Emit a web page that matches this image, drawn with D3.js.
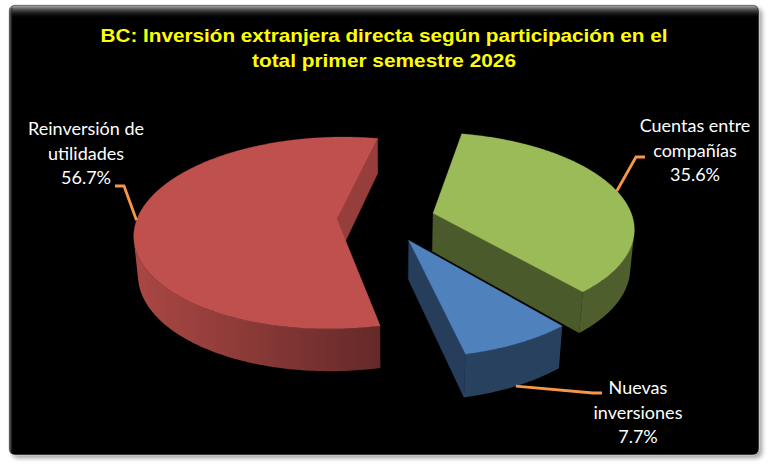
<!DOCTYPE html>
<html lang="es">
<head>
<meta charset="utf-8">
<title>BC: Inversión extranjera directa</title>
<script src="https://cdn.jsdelivr.net/npm/d3@7"></script>
<style>
body { margin: 0; background: #fff; }
svg { display: block; }
.title { font: bold 18.5px "Liberation Sans", Arial, sans-serif; fill: #ffff00; text-anchor: middle; }
.lbl { font: 18px Lato, "Open Sans", sans-serif; fill: #fff; text-anchor: middle; }
.leader { fill: none; stroke: #f79646; stroke-width: 2.8; }
</style>
</head>
<body>
<div id="chart"></div>
<script>
var categories = ["Cuentas entre compañías", "Nuevas inversiones", "Reinversión de utilidades"];
var shares = [35.6, 7.7, 56.7];
var labelLines = [["Cuentas entre", "compañías"], ["Nuevas", "inversiones"], ["Reinversión de", "utilidades"]];
var colors = ["#9bbb59", "#4f81bd", "#c0504d"];
var titleLines = ["BC: Inversión extranjera directa según participación en el", "total primer semestre 2026"];

var W = 770, H = 470;
var svg = d3.select("#chart").append("svg").attr("width", W).attr("height", H);
var defs = svg.append("defs");

// frame
var sh = defs.append("filter").attr("id", "shadow").attr("x", "-5%").attr("y", "-5%").attr("width", "110%").attr("height", "112%");
sh.append("feDropShadow").attr("dx", 3).attr("dy", 3).attr("stdDeviation", 2)
  .attr("flood-color", "#000").attr("flood-opacity", 0.35);
var bevel = defs.append("linearGradient").attr("id", "bevel").attr("x1", 0).attr("y1", 0).attr("x2", 0).attr("y2", 1);
bevel.append("stop").attr("offset", 0).attr("stop-color", "#b0b0b0");
bevel.append("stop").attr("offset", 1).attr("stop-color", "#000").attr("stop-opacity", 0);
var bevelL = defs.append("linearGradient").attr("id", "bevelL").attr("x1", 0).attr("y1", 0).attr("x2", 1).attr("y2", 0);
bevelL.append("stop").attr("offset", 0).attr("stop-color", "#777");
bevelL.append("stop").attr("offset", 1).attr("stop-color", "#000").attr("stop-opacity", 0);

svg.append("rect").attr("x", 9).attr("y", 5).attr("width", 750).attr("height", 450).attr("rx", 6)
  .attr("fill", "#030303").attr("stroke", "#bbb").attr("stroke-width", 0.6).attr("filter", "url(#shadow)");
svg.append("rect").attr("x", 9.5).attr("y", 5.5).attr("width", 749).attr("height", 13).attr("rx", 6).attr("fill", "url(#bevel)");
svg.append("rect").attr("x", 9.5).attr("y", 8).attr("width", 4).attr("height", 444).attr("fill", "url(#bevelL)");

// title
var titleWidth = [567, 264];
svg.selectAll(".title").data(titleLines).enter().append("text")
  .attr("class", "title").attr("x", 384).attr("y", function(d, i) { return 42 + i * 24.5; })
  .attr("textLength", function(d, i) { return titleWidth[i]; })
  .attr("lengthAdjust", "spacingAndGlyphs")
  .text(function(d) { return d; });

// 3d view
var cx = 386, cy = 219;
var R = 200, depth = 44, explode = 49;
var tilt = 28 * Math.PI / 180, eye = 1240;
var startDeg = 11.4;
var cam = [0, eye * Math.sin(tilt), eye * Math.cos(tilt)];

function view(x, y, z) {
  var v = -y * Math.cos(tilt) + z * Math.sin(tilt);
  var w = y * Math.sin(tilt) + z * Math.cos(tilt);
  var s = eye / (eye - w);
  return [cx + x * s, cy + v * s, w];
}
function rim(d, a, y) {
  return view(d.ox + R * Math.sin(a), y, d.oz - R * Math.cos(a));
}
function facing(nx, nz, px, pz) {
  return nx * (cam[0] - px) + nz * (cam[2] - pz) > 0;
}
function shade(c, f) { return d3.interpolateRgb("#000", c)(f); }
function xy(p) { return [p[0], p[1]]; }
var line = d3.line();

var a0 = startDeg * Math.PI / 180;
var pie = d3.pie().sort(null).startAngle(a0).endAngle(a0 + 2 * Math.PI);
var arcs = pie(shares);
arcs.forEach(function(d, i) {
  d.i = i;
  d.mid = (d.startAngle + d.endAngle) / 2;
  d.ox = explode * Math.sin(d.mid);
  d.oz = -explode * Math.cos(d.mid);
});

var order = arcs.slice().sort(function(a, b) { return a.oz - b.oz; });
var g = svg.append("g");

order.forEach(function(d) {
  var col = colors[d.i];
  var ct = view(d.ox, 0, d.oz), cb = view(d.ox, -depth, d.oz);

  // radial faces
  [[d.startAngle, -Math.cos(d.startAngle), -Math.sin(d.startAngle)],
   [d.endAngle, Math.cos(d.endAngle), Math.sin(d.endAngle)]].forEach(function(r) {
    if (!facing(r[1], r[2], d.ox, d.oz)) return;
    var pt = rim(d, r[0], 0), pb = rim(d, r[0], -depth);
    var c = shade(col, 0.48 + 0.3 * Math.max(0, r[1]));
    g.append("path").attr("d", line([ct, pt, pb, cb].map(xy)) + "Z")
      .attr("fill", c).attr("stroke", c).attr("stroke-width", 0.3);
  });

  // outer wall, one shape with a gradient along x
  var n = Math.ceil((d.endAngle - d.startAngle) / (Math.PI / 180));
  var step = (d.endAngle - d.startAngle) / n;
  var topPts = [], botPts = [], stops = [];
  for (var k = 0; k <= n; k++) {
    var a = d.startAngle + k * step;
    var nx = Math.sin(a), nz = -Math.cos(a);
    if (!facing(nx, nz, d.ox + R * nx, d.oz + R * nz)) continue;
    var p = rim(d, a, 0);
    topPts.push(xy(p));
    botPts.push(xy(rim(d, a, -depth)));
    stops.push({ x: p[0], c: shade(col, 0.5 + 0.38 * Math.max(0, Math.cos(a - 255 * Math.PI / 180))) });
  }
  if (topPts.length > 1) {
    stops.sort(function(u, v) { return u.x - v.x; });
    var x1 = stops[0].x, x2 = stops[stops.length - 1].x;
    var gid = "wall" + d.i;
    var lg = defs.append("linearGradient").attr("id", gid).attr("gradientUnits", "userSpaceOnUse")
      .attr("x1", x1).attr("y1", 0).attr("x2", x2).attr("y2", 0);
    stops.forEach(function(s) {
      lg.append("stop").attr("offset", (s.x - x1) / (x2 - x1)).attr("stop-color", s.c);
    });
    g.append("path").attr("d", line(topPts.concat(botPts.reverse())) + "Z")
      .attr("fill", "url(#" + gid + ")");
  }

  // top
  var top = [ct];
  var m = Math.ceil((d.endAngle - d.startAngle) / (Math.PI / 360));
  for (var j = 0; j <= m; j++) {
    top.push(rim(d, d.startAngle + (d.endAngle - d.startAngle) * j / m, 0));
  }
  g.append("path").attr("d", line(top.map(xy)) + "Z")
    .attr("fill", col).attr("stroke", col).attr("stroke-width", 0.3);
});

// labels
var labelAt = [
  { x: 695, y: 132, attach: [645, 157], dir: -1 },
  { x: 638, y: 394, attach: [602, 393], dir: -1, low: true },
  { x: 86, y: 135, attach: [115, 186], dir: 1 }
];

arcs.forEach(function(d) {
  var L = labelAt[d.i];
  var an = rim(d, d.mid, L.low ? -depth : 0);
  var el = [L.attach[0] + L.dir * 9, L.attach[1]];
  svg.append("path").attr("class", "leader")
    .attr("d", line([L.attach, el, xy(an)]));
  var t = svg.append("text").attr("class", "lbl").attr("x", L.x).attr("y", L.y);
  labelLines[d.i].concat([shares[d.i].toFixed(1) + "%"]).forEach(function(s, k) {
    t.append("tspan").attr("x", L.x).attr("dy", k === 0 ? 0 : 24.5).text(s);
  });
});
</script>
</body>
</html>
